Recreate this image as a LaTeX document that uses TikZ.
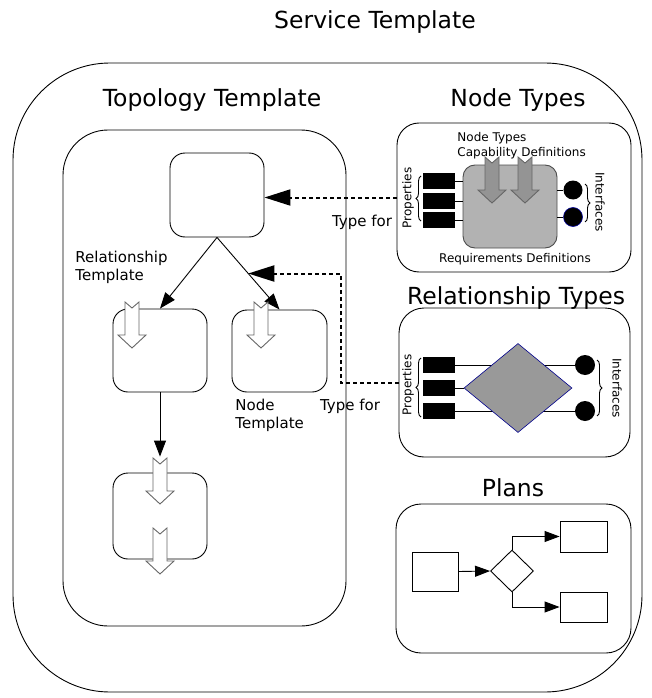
\documentclass[tikz,border=0pt]{standalone}
\usepackage{fontspec}
\setmainfont{DejaVu Sans}
\usetikzlibrary{arrows.meta,shapes.geometric,decorations.pathreplacing}

\tikzset{
  container/.style={draw, rounded corners=#1, inner sep=0pt},
  tmpl/.style={draw, rounded corners=15pt, inner sep=0pt},
  titletext/.style={font=\fontsize{23.5}{28}\selectfont, inner sep=0pt},
  midtext/.style={font=\fontsize{15}{18}\selectfont, inner sep=0pt, align=left},
  smalltext/.style={font=\fontsize{12}{15.5}\selectfont, inner sep=0pt, align=left},
  propbox/.style={fill=black, minimum width=32pt, minimum height=16pt, inner sep=0pt},
  iface/.style={circle, fill=black, minimum size=19pt, inner sep=0pt},
  plainbox/.style={draw, minimum width=47pt, inner sep=0pt},
  solidarrow/.style={-{Triangle[length=16pt,width=12pt]}},
  planarrow/.style={-{Triangle[length=15pt,width=11pt]}},
  typefor/.style={dash pattern=on 4pt off 3pt, line width=2pt,
                  -{Triangle[length=26pt,width=16pt]}},
  bracel/.style={decorate, decoration={brace, amplitude=5pt}},
  pics/downarrow/.style={code={
    \draw[#1] (-7,0) -- (0,6) -- (7,0) -- (7,33) -- (14,33) -- (0,46)
              -- (-14,33) -- (-7,33) -- cycle;
  }}
}

\begin{document}
\begin{tikzpicture}[x=1pt, y=-1pt, line width=0.9pt]
\useasboundingbox (0,0) rectangle (651,698);

% ---------- outer frame ----------
\node[titletext] (svctitle) at (375,22) {Service Template};
\node[container=97pt, minimum width=629pt, minimum height=629pt] (svc) at (327.5,377.5) {};

% ---------- topology template ----------
\node[titletext] (toptitle) at (212,100) {Topology Template};
\node[container=45pt, minimum width=283pt, minimum height=496pt] (topo) at (204.5,378) {};

\node[tmpl, minimum width=94pt, minimum height=84pt] (top) at (217,195) {};
\node[tmpl, minimum width=94pt, minimum height=83pt] (lc) at (160,350.5) {};
\node[tmpl, minimum width=95pt, minimum height=82pt] (rc) at (279.5,351) {};
\node[tmpl, minimum width=94pt, minimum height=86pt] (bb) at (160,516) {};

\draw[solidarrow] (top.south) -- (lc.north);
\draw[solidarrow] (top.south) -- coordinate[pos=0.5] (relmid) (rc.north);
\draw[solidarrow, shorten >=16pt] (lc.south) -- (bb.north);

\pic at (132,302) {downarrow={draw=black!60, fill=white}};
\pic at (261,302) {downarrow={draw=black!60, fill=white}};
\pic at (160,458) {downarrow={draw=black!60, fill=white}};
\pic at (160,528) {downarrow={draw=black!60, fill=white}};

\node[midtext, anchor=west] (reltext) at (75,267) {Relationship\\Template};
\node[midtext, anchor=west] (nodetext) at (235,415) {Node\\Template};

% ---------- node types ----------
\node[titletext] (nttitle) at (518,100) {Node Types};
\node[container=22pt, minimum width=234pt, minimum height=149pt] (nt) at (514,197.5) {};
\node[draw=black!70, fill=black!30, rounded corners=12pt, minimum width=94pt,
      minimum height=83pt, inner sep=0pt] (core) at (510,206.5) {};

\node[propbox] (np1) at (439,181) {};
\node[propbox] (np2) at (439,201) {};
\node[propbox] (np3) at (439,220) {};
\draw (np1.east) -- (np1.east -| core.west);
\draw (np2.east) -- (np2.east -| core.west);
\draw (np3.east) -- (np3.east -| core.west);

\node[iface] (ni1) at (573,190) {};
\node[iface, draw=blue!60!black, line width=0.6pt] (ni2) at (573,217) {};
\draw (ni1.west -| core.east) -- (ni1.west);
\draw (ni2.west -| core.east) -- (ni2.west);

\pic at (492,157) {downarrow={draw=black!60, fill=black!42}};
\pic at (525,157) {downarrow={draw=black!60, fill=black!42}};

\node[smalltext, anchor=west] (captext) at (457,145.5) {Node Types\\Capability Definitions};
\node[smalltext] (reqtext) at (515,259) {Requirements Definitions};

\draw[bracel] (421,221) -- (421,176);
\node[smalltext, rotate=90] (nprop) at (408,198) {Properties};
\draw[bracel] (585,184) -- (585,222);
\node[smalltext, rotate=-90] (nint) at (600,202) {Interfaces};

% ---------- relationship types ----------
\node[titletext] (rttitle) at (516,298) {Relationship Types};
\node[container=25pt, minimum width=231pt, minimum height=149pt] (rt) at (514.5,382.5) {};

\node[propbox] (rp1) at (439,365) {};
\node[propbox] (rp2) at (439,388) {};
\node[propbox] (rp3) at (439,411) {};
\node[iface, minimum size=20pt] (ri1) at (585,365) {};
\node[iface, minimum size=20pt] (ri2) at (585,411) {};
\draw (rp1.east) -- (ri1.west);
\draw (rp3.east) -- (ri2.west);
\node[diamond, draw=blue!55!black, line width=0.6pt, fill=black!40,
      minimum width=108pt, minimum height=89pt, inner sep=0pt] (rel) at (518,388) {};
\draw (rp2.east) -- (rel.west);

\draw[bracel] (421,417) -- (421,358);
\node[smalltext, rotate=90] (rprop) at (408,385) {Properties};
\draw[bracel] (597,360) -- (597,416);
\node[smalltext, rotate=-90] (rint) at (617,388) {Interfaces};

% ---------- type-for links ----------
\draw[typefor] (nt.west) -- (nt.west -| top.east);
\node[midtext] (tf1) at (362,222) {Type for};
\draw[typefor] (rt.west) -- ++(-58,0) |- (relmid);
\node[midtext] (tf2) at (350,406) {Type for};

% ---------- plans ----------
\node[titletext] (pltitle) at (513,488) {Plans};
\node[container=25pt, minimum width=235pt, minimum height=149pt] (plans) at (513.5,578.5) {};

\node[plainbox, minimum width=46pt, minimum height=39pt] (pstart) at (435,571.5) {};
\node[diamond, draw, minimum width=43pt, minimum height=42pt, inner sep=0pt] (pdec) at (512,571) {};
\node[plainbox, minimum height=31pt] (pa) at (583.5,536.5) {};
\node[plainbox, minimum height=30pt] (pb) at (583.5,607) {};

\draw[planarrow] (pstart.east) -- (pdec.west);
\draw[planarrow] (pdec.north) |- (pa.west);
\draw[planarrow] (pdec.south) |- (pb.west);
\end{tikzpicture}
\end{document}
